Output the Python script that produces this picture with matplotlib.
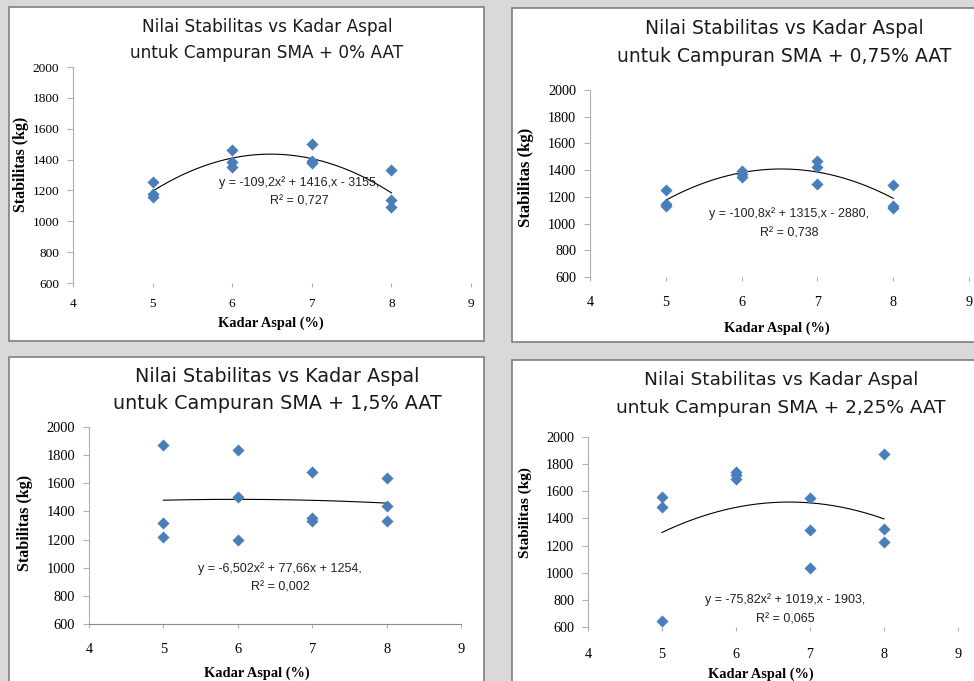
import numpy as np
import matplotlib.pyplot as plt
from matplotlib.patches import Rectangle

W, H = 974, 681

# Kadar aspal (%) for every specimen, same for all four mixes
kadar = [5, 5, 5, 6, 6, 6, 7, 7, 7, 8, 8, 8]

# Stabilitas (kg)
stab_0 = [1255, 1180, 1160, 1465, 1385, 1350, 1500, 1390, 1380, 1330, 1140, 1090]
stab_075 = [1255, 1145, 1130, 1390, 1370, 1350, 1470, 1420, 1295, 1290, 1130, 1115]
stab_15 = [1870, 1320, 1220, 1835, 1505, 1195, 1680, 1350, 1330, 1635, 1440, 1335]
stab_225 = [1560, 1485, 645, 1740, 1720, 1690, 1550, 1315, 1035, 1875, 1320, 1225]

# polynomial trendline coefficients as printed on the charts
coef_0 = [-109.2, 1416, -3155]
coef_075 = [-100.8, 1315, -2880]
coef_15 = [-6.502, 77.66, 1254]
coef_225 = [-75.82, 1019, -1903]

labels = ['0%', '0,75%', '1,5%', '2,25%']
eq_text = [('y = -109,2x² + 1416,x - 3155,', 'R² = 0,727'),
           ('y = -100,8x² + 1315,x - 2880,', 'R² = 0,738'),
           ('y = -6,502x² + 77,66x + 1254,', 'R² = 0,002'),
           ('y = -75,82x² + 1019,x - 1903,', 'R² = 0,065')]
series = [stab_0, stab_075, stab_15, stab_225]
coefs = [coef_0, coef_075, coef_15, coef_225]

# layout in pixels (top-left origin)
panels = [(9, 7, 484, 341), (512, 8, 985, 342), (9, 357, 484, 690), (512, 360, 985, 690)]
axboxes = [(73, 67, 471, 283), (590, 90, 969, 277), (89, 427, 461, 624), (588, 437, 958, 627)]
titles = [(267, 27, 53, 12.2), (784, 28, 57, 13.5), (277, 377, 403, 13.8), (781, 380, 408, 13.3)]
eqpos = [(299, 183, 201), (789, 214, 234), (280, 569, 588), (785, 600, 619)]
ylab = [(21, 164, 11.4), (526, 177, 12.0), (25, 523, 11.6), (525, 513, 11.0)]
xlab = [(271, 323), (777, 328), (257, 673), (761, 674)]
xpad = [8, 11, 11, 12]
tick_fs = [9.6, 10.2, 10.4, 10.2]

fig = plt.figure(figsize=(W / 100, H / 100), dpi=100, facecolor='#d9d9d9')


def fx(x):
    return x / W


def fy(y):
    return 1 - y / H


for i in range(4):
    l, t, r, b = panels[i]
    fig.add_artist(Rectangle((fx(l), fy(b)), fx(r - l), (b - t) / H,
                             transform=fig.transFigure, facecolor='white',
                             edgecolor='#7f7f7f', lw=1.2, zorder=0))

    l, t, r, b = axboxes[i]
    ax = fig.add_axes([fx(l), fy(b), fx(r - l), (b - t) / H])
    ax.set_facecolor('none')
    ax.scatter(kadar, series[i], marker='D', s=38, color='#4a7ebb', linewidths=0, zorder=3)
    xs = np.linspace(5, 8, 200)
    ax.plot(xs, np.polyval(coefs[i], xs), color='black', lw=0.8, zorder=2)

    ax.set_xlim(4, 9)
    ax.set_ylim(600, 2000)
    ax.set_xticks([4, 5, 6, 7, 8, 9])
    ax.set_yticks(np.arange(600, 2001, 200))
    for s in ['top', 'right']:
        ax.spines[s].set_visible(False)
    ax.spines['left'].set_color('#b0b0b0')
    ax.spines['bottom'].set_color('#8c8c8c')
    ax.spines['bottom'].set_visible(i == 2)
    ax.tick_params(axis='y', length=4, width=0.8, color='#b0b0b0', pad=6,
                   labelsize=tick_fs[i])
    ax.tick_params(axis='x', length=3, width=0.8, color='#b0b0b0', pad=xpad[i],
                   labelsize=tick_fs[i])
    for lab in ax.get_xticklabels() + ax.get_yticklabels():
        lab.set_fontfamily('Liberation Serif')

    cx, y1, y2, fs = titles[i]
    fig.text(fx(cx), fy(y1), 'Nilai Stabilitas vs Kadar Aspal', ha='center', va='center',
             fontsize=fs, family='DejaVu Sans', color='#1a1a1a')
    fig.text(fx(cx), fy(y2), 'untuk Campuran SMA + %s AAT' % labels[i], ha='center',
             va='center', fontsize=fs, family='DejaVu Sans', color='#1a1a1a')

    ex, e1, e2 = eqpos[i]
    fig.text(fx(ex), fy(e1), eq_text[i][0], ha='center', va='center', fontsize=9,
             family='Liberation Sans', color='#222222')
    fig.text(fx(ex), fy(e2), eq_text[i][1], ha='center', va='center', fontsize=9,
             family='Liberation Sans', color='#222222')

    yx, yy, yfs = ylab[i]
    fig.text(fx(yx), fy(yy), 'Stabilitas (kg)', rotation=90, ha='center', va='center',
             fontsize=yfs, family='Liberation Serif', weight='bold')
    xx, xy = xlab[i]
    fig.text(fx(xx), fy(xy), 'Kadar Aspal (%)', ha='center', va='center',
             fontsize=10.4, family='Liberation Serif', weight='bold')

fig.savefig('out.png', dpi=100, facecolor=fig.get_facecolor())
